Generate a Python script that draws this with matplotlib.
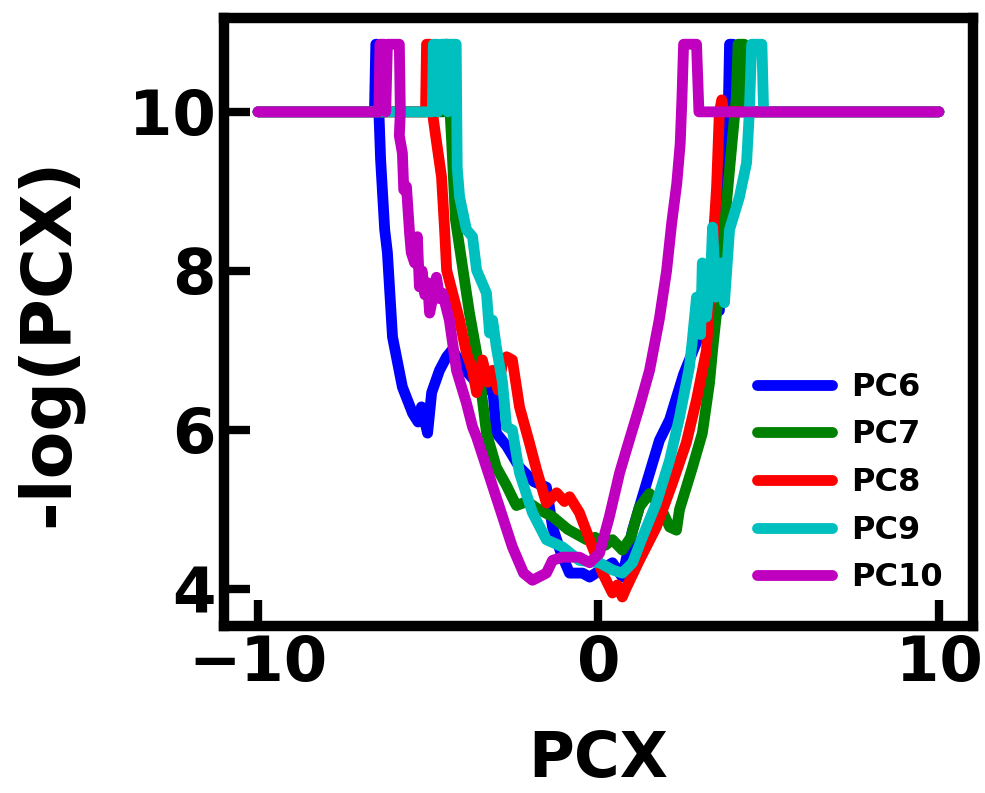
import matplotlib
matplotlib.use("Agg")
import matplotlib.pyplot as plt

plt.rcParams['font.family'] = ['DejaVu Sans']
plt.rcParams['font.weight'] = 'bold'

series_names = ["PC6", "PC7", "PC8", "PC9", "PC10"]
series_colors = ["#0000ff", "#008000", "#ff0000", "#00bfbf", "#bf00bf"]

pc6_x = [-10, -6.58, -6.54, -6.50, -6.45, -6.40, -6.28, -6.20, -6.05, -5.76, -5.46, -5.30, -5.20,
         -5.02, -4.90, -4.67, -4.46, -4.29, -4.0, -3.6, -3.2, -3.11, -3.0, -2.7, -2.32, -1.9,
         -1.53, -1.35, -1.1, -0.85, -0.47, -0.26, 0.1, 0.41, 0.70, 1.0, 1.41, 1.79, 2.09, 2.5,
         2.97, 3.3, 3.55, 3.70, 3.79, 3.82, 3.85, 3.95, 4.0, 10]
pc6_y = [10, 10, 10.85, 10.85, 10, 9.4, 8.52, 8.23, 7.17, 6.54, 6.21, 6.1, 6.29,
         5.96, 6.47, 6.75, 6.92, 7.01, 6.8, 6.6, 6.5, 6.55, 5.96, 5.8, 5.53, 5.35,
         5.28, 4.78, 4.45, 4.2, 4.2, 4.15, 4.25, 4.33, 4.15, 4.74, 5.33, 5.87, 6.13, 6.7,
         7.2, 7.45, 7.5, 8.6, 9.65, 10.19, 10.85, 10.85, 10, 10]

pc7_x = [-10, -4.55, -4.50, -4.40, -4.36, -4.32, -4.2, -3.79, -3.58, -3.29, -3.0, -2.7, -2.45,
         -2.41, -2.1, -1.75, -1.35, -0.9, -0.35, -0.1, 0.2, 0.41, 0.7, 0.95, 1.2, 1.5, 1.8,
         2.09, 2.29, 2.38, 2.76, 3.05, 3.26, 3.35, 3.5, 3.64, 3.94, 4.05, 4.10, 4.28, 4.32, 10]
pc7_y = [10, 10, 10.85, 10.85, 10, 9.69, 8.64, 7.47, 6.97, 5.96, 5.53, 5.3, 5.08,
         5.05, 5.1, 5.0, 4.91, 4.75, 4.62, 4.65, 4.55, 4.62, 4.49, 4.65, 5.03, 5.2, 5.05,
         4.78, 4.74, 5.0, 5.53, 5.96, 6.59, 7.0, 7.6, 8.3, 9.69, 10.19, 10.85, 10.85, 10, 10]

pc8_x = [-10, -5.08, -5.05, -4.92, -4.88, -4.78, -4.61, -4.52, -4.46, -4.08, -3.88, -3.70, -3.58,
         -3.41, -3.25, -3.11, -2.95, -2.82, -2.70, -2.53, -2.32, -2.03, -1.82, -1.53, -1.23, -1.0,
         -0.85, -0.56, -0.26, 0.12, 0.41, 0.55, 0.7, 0.8, 1.2, 1.70, 2.17, 2.58, 2.88, 3.17, 3.35,
         3.47, 3.55, 3.62, 3.68, 10]
pc8_y = [10, 10, 10.85, 10.85, 10, 9.69, 9.18, 8.52, 8.01, 7.38, 6.97, 6.75, 6.47,
         6.88, 6.6, 6.75, 6.5, 6.84, 6.92, 6.88, 6.29, 5.84, 5.50, 5.08, 5.21, 5.1,
         5.16, 4.96, 4.62, 4.2, 3.95, 4.05, 3.90, 4.0, 4.36, 4.78, 5.33, 5.84, 6.38, 7.0, 8.23,
         9.06, 9.99, 10.15, 10, 10]

pc9_x = [-10, -4.88, -4.85, -4.75, -4.72, -4.62, -4.45, -4.42, -4.35, -4.18, -4.15, -4.08, -3.88,
         -3.70, -3.58, -3.29, -3.20, -3.11, -3.0, -2.82, -2.70, -2.53, -2.32, -1.94, -1.53, -1.06,
         -0.56, 0.03, 0.41, 0.70, 1.0, 1.29, 1.70, 2.09, 2.38, 2.67, 2.75, 2.88, 3.0, 3.05, 3.17,
         3.30, 3.35, 3.45, 3.6, 3.7, 3.85, 4.14, 4.35, 4.43, 4.50, 4.80, 4.85, 10]
pc9_y = [10, 10, 10.85, 10.85, 10, 10.85, 10.85, 10, 10.85, 10.85, 9.3, 8.93, 8.52,
         8.43, 8.01, 7.72, 7.22, 7.38, 7.04, 6.6, 6.04, 6.0, 5.46, 4.96, 4.62, 4.53,
         4.36, 4.33, 4.24, 4.20, 4.33, 4.65, 5.08, 5.62, 6.16, 6.79, 7.1, 7.67, 7.2, 8.10, 7.42,
         8.0, 8.55, 7.67, 8.1, 7.6, 8.52, 8.93, 9.36, 9.99, 10.85, 10.85, 10, 10]

pc10_x = [-10, -6.45, -6.42, -6.28, -6.25, -6.20, -5.85, -5.82, -5.85, -5.76, -5.72, -5.64, -5.55,
          -5.5, -5.4, -5.32, -5.26, -5.18, -5.1, -5.02, -4.96, -4.85, -4.76, -4.66, -4.58, -4.45,
          -4.38, -4.17, -3.88, -3.70, -3.58, -3.29, -2.91, -2.53, -2.2, -1.94, -1.53, -1.35, -1.06,
          -0.56, -0.26, 0.03, 0.32, 0.62, 0.82, 1.2, 1.5, 1.79, 2.0, 2.15, 2.3, 2.4, 2.45, 2.5,
          2.88, 2.95, 10]
pc10_y = [10, 10, 10.85, 10.85, 10, 10.85, 10.85, 10, 9.7, 9.48, 9.02, 9.06, 8.48,
          8.23, 8.1, 8.43, 7.8, 8.0, 7.7, 7.85, 7.47, 7.7, 7.92, 7.65, 7.72, 7.5,
          7.38, 6.75, 6.34, 6.04, 5.91, 5.53, 5.03, 4.53, 4.2, 4.11, 4.20, 4.36, 4.40,
          4.40, 4.33, 4.45, 4.91, 5.46, 5.75, 6.29, 6.75, 7.4, 8.0, 8.6, 9.1, 9.6, 10.15, 10.85,
          10.85, 10, 10]

xs = [pc6_x, pc7_x, pc8_x, pc9_x, pc10_x]
ys = [pc6_y, pc7_y, pc8_y, pc9_y, pc10_y]

x_ticks = [-10, 0, 10]
y_ticks = [4, 6, 8, 10]

fig = plt.figure(figsize=(9.85, 7.93), dpi=100)
ax = fig.add_axes([0.2274, 0.2106, 0.7604, 0.7667])

for x, y, name, c in zip(xs, ys, series_names, series_colors):
    ax.plot(x, y, color=c, lw=7.8, label=name, solid_capstyle='round', solid_joinstyle='round')

ax.set_xlim(-11, 11)
ax.set_ylim(3.535, 11.18)
ax.set_xticks(x_ticks)
ax.set_yticks(y_ticks)
ax.tick_params(direction='in', length=19, width=6, labelsize=45, pad=6)
for lab in ax.get_xticklabels() + ax.get_yticklabels():
    lab.set_fontweight('bold')
for s in ax.spines.values():
    s.set_linewidth(7.5)

ax.set_xlabel("PCX", fontsize=45, fontweight='bold', labelpad=26)
ax.set_ylabel("-log(PCX)", fontsize=50, fontweight='bold')
ax.yaxis.set_label_coords(-0.189, 0.466)

leg = ax.legend(loc='upper left', bbox_to_anchor=(0.712, 0.418), frameon=False,
                prop={'size': 23, 'weight': 'bold'}, handlelength=2.35, handletextpad=0.6,
                labelspacing=0.52, borderpad=0, borderaxespad=0)
for h in leg.get_lines():
    h.set_linewidth(7.8)

fig.savefig("out.png", dpi=100)
